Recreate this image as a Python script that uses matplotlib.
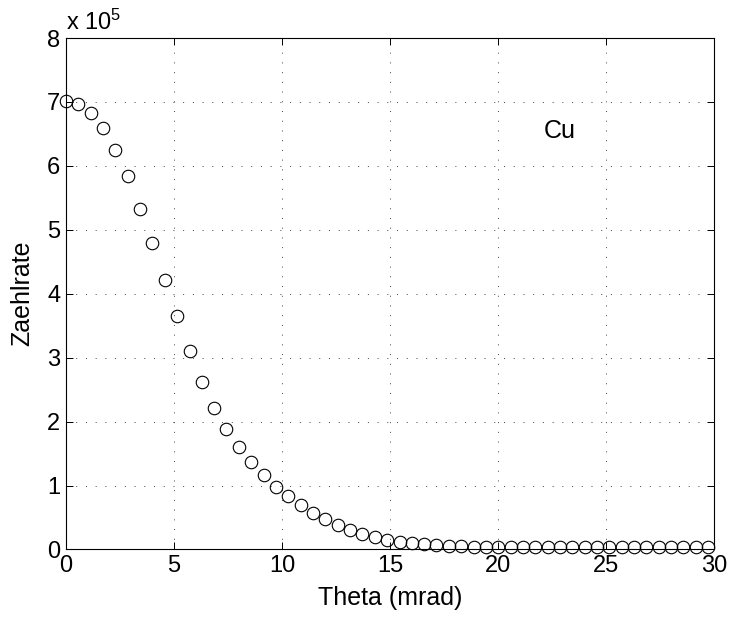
import matplotlib.pyplot as plt

plt.rcParams['font.family'] = ['Liberation Sans', 'DejaVu Sans']
plt.rcParams['mathtext.default'] = 'regular'

# Theta in mrad, count rate in units of 1e5
theta = [0.00, 0.57, 1.14, 1.72, 2.29, 2.86, 3.43, 4.00, 4.57, 5.15,
         5.72, 6.29, 6.86, 7.43, 8.00, 8.58, 9.15, 9.72, 10.29, 10.86,
         11.43, 12.01, 12.58, 13.15, 13.72, 14.29, 14.86, 15.44, 16.01, 16.58,
         17.15, 17.72, 18.29, 18.87, 19.44, 20.01, 20.58, 21.15, 21.72, 22.30,
         22.87, 23.44, 24.01, 24.58, 25.15, 25.73, 26.30, 26.87, 27.44, 28.01,
         28.58, 29.16, 29.73]
rate = [7.02, 6.96, 6.82, 6.59, 6.25, 5.84, 5.33, 4.79, 4.21, 3.65,
        3.11, 2.62, 2.22, 1.89, 1.60, 1.37, 1.17, 0.98, 0.83, 0.70,
        0.575, 0.47, 0.38, 0.30, 0.24, 0.19, 0.148, 0.117, 0.095, 0.078,
        0.065, 0.056, 0.050, 0.046, 0.043, 0.041, 0.040, 0.039, 0.038, 0.038,
        0.037, 0.037, 0.036, 0.036, 0.036, 0.035, 0.035, 0.035, 0.034, 0.034,
        0.034, 0.033, 0.033]
rate = [r * 1e5 for r in rate]

xticks = [0, 5, 10, 15, 20, 25, 30]
yticks = [0, 1, 2, 3, 4, 5, 6, 7, 8]

fig = plt.figure(figsize=(7.3, 6.22), dpi=100)
ax = fig.add_axes([0.0904, 0.1166, 0.8877, 0.8223])

ax.plot(theta, rate, 'o', mfc='none', mec='black', ms=9, mew=0.8,
        clip_on=False, zorder=3)

ax.set_xlim(0, 30)
ax.set_ylim(0, 8e5)
ax.set_xticks(xticks)
ax.set_yticks([t * 1e5 for t in yticks])
ax.set_yticklabels([str(t) for t in yticks])

ax.grid(True, color='#444444', linestyle=(0, (1, 9)), linewidth=0.7)
ax.tick_params(direction='in', length=5, width=0.7, labelsize=17,
               top=True, right=True, pad=4)
ax.tick_params(axis='y', pad=4)
for s in ax.spines.values():
    s.set_linewidth(0.8)

ax.set_xlabel('Theta (mrad)', fontsize=18, va='center')
ax.xaxis.set_label_coords(0.5, -0.094)
ax.set_ylabel('Zaehlrate', fontsize=18, va='center')
ax.yaxis.set_label_coords(-0.068, 0.5)

ax.text(0.0, 1.0157, r'x 10$^{5}$', transform=ax.transAxes, fontsize=17,
        ha='left', va='baseline')
ax.text(22.1, 6.55e5, 'Cu', fontsize=18, ha='left', va='center')

fig.savefig('out.png', dpi=100)
